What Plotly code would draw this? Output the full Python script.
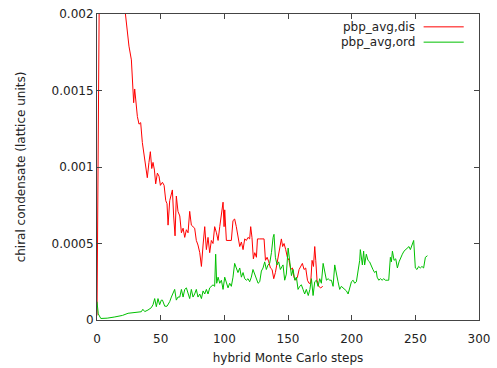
import plotly.graph_objects as go

# Disordered start (red)
steps_dis = [0, 2, 10, 18, 21, 22.3, 23.6, 25.1, 27, 27.8, 28.8, 29.6, 30.4, 31.7, 33, 34.3, 35.6, 36.9,
             38.2, 39.5, 40.8, 41.9, 43, 44, 45.1, 46.1, 47.4, 48.7, 49.8, 51.4, 52.7, 54, 55, 55.8,
             57.1, 59.2, 60.2, 61.3, 62.3, 63.6, 65, 66.3, 67.6, 68.9, 70.2, 71.5, 72.8, 74.1, 75.4,
             76.7, 78, 79.3, 80.7, 82, 83.3, 84.6, 85.9, 87.2, 88.5, 89.8, 91.1, 92.4, 93.8, 95.1,
             96.4, 97.7, 99, 99.8, 100.3, 101.6, 102.9, 104.2, 105.5, 106.8, 108.1, 109.4, 110.7,
             112.1, 113.4, 114.7, 116, 117.3, 118.6, 119.9, 120.7, 121.7, 122.8, 123.9, 125.2, 126,
             127.7, 130.4, 131.2, 132.3, 133.6, 134.9, 136.2, 137.5, 138.8, 140.1, 141.4, 142.7, 144,
             144.8, 145.8, 146.9, 148.2, 149.5, 150.8, 152.1, 153.5, 154.7, 156, 157.4, 158.7, 160,
             161.3, 162.6, 163.9, 165.3, 166.5, 167.8, 168.9, 170, 171, 171.8, 172.8, 174.1, 175.7,
             177.3]
pbp_dis = [0.00003, 0.0024, 0.0040, 0.0028, 0.0021, 0.00200, 0.00186, 0.00179, 0.00170, 0.00159,
           0.00142, 0.00151, 0.00145, 0.00133, 0.00128, 0.00129, 0.00116, 0.00107, 0.00100, 0.00093,
           0.00103, 0.00110, 0.00099, 0.00103, 0.00098, 0.00089, 0.00096, 0.00094, 0.00088, 0.00090,
           0.00088, 0.00078, 0.00076, 0.00062, 0.00078, 0.00085, 0.00068, 0.00055, 0.00081, 0.00071,
           0.00068, 0.00057, 0.00060, 0.00054, 0.00059, 0.00057, 0.00071, 0.00062, 0.00061, 0.00060,
           0.00052, 0.00049, 0.00044, 0.00035, 0.00049, 0.00061, 0.00046, 0.00054, 0.00044, 0.00052,
           0.00050, 0.00061, 0.00057, 0.00052, 0.00061, 0.00068, 0.00077, 0.00061, 0.00072, 0.00052,
           0.00052, 0.00052, 0.00052, 0.00065, 0.00066, 0.00061, 0.00054, 0.00048, 0.00051, 0.00046,
           0.00053, 0.00052, 0.00054, 0.00053, 0.00061, 0.00054, 0.00040, 0.00044, 0.00041, 0.00053,
           0.00053, 0.00053, 0.00053, 0.00039, 0.00041, 0.00038, 0.00034, 0.00033, 0.00027, 0.00031,
           0.00037, 0.00041, 0.00048, 0.00053, 0.00048, 0.00050, 0.00046, 0.00041, 0.00039, 0.00033,
           0.00034, 0.00028, 0.00026, 0.00028, 0.00033, 0.00035, 0.00037, 0.00033, 0.00034, 0.00026,
           0.00024, 0.00024, 0.00039, 0.00035, 0.00048, 0.00039, 0.00026, 0.00022, 0.00021, 0.00022]

# Ordered start (green)
steps_ord = [0, 1, 3, 8, 14, 20, 24.4, 30, 34.8, 36, 37.5, 40, 42.6, 44, 45.3, 46.6, 47.9, 49.2, 50.5,
             51.4, 53.2, 55, 57.1, 58.4, 61, 62.3, 63.6, 65, 66.3, 67.6, 68.9, 70.2, 71.5, 72.8, 74.1,
             75.4, 76.7, 78, 79.3, 80.7, 82, 83.3, 84.6, 85.9, 87.2, 88.5, 91.1, 92.4, 93.2, 94, 95.1,
             96.4, 97.7, 99, 100.3, 101.6, 102.9, 104.2, 105.5, 106.8, 108.1, 109.4, 110.7, 112.1,
             113.4, 114.7, 116, 117.3, 118.6, 119.9, 121.2, 122.5, 123.8, 125.2, 126.5, 127.8, 129.1,
             130.4, 131.7, 133, 134.3, 135.6, 137, 138.3, 139, 140.1, 141.4, 142.7, 144, 145.3, 146.1,
             147.4, 148.7, 150.1, 151.4, 152.7, 154, 155.3, 156.6, 157.9, 159.2, 160.5, 161.8, 163.1,
             164.4, 165.9, 167.2, 168.4, 169.7, 171, 172.3, 173.6, 174.9, 176.2, 177.6, 179, 180.2,
             181.5, 182.8, 184.1, 185.4, 186.7, 188, 189.3, 190.6, 191.9, 193.2, 194.6, 195.9, 197.2,
             198.5, 199.8, 201.1, 202.4, 203.7, 205, 206.3, 206.8, 208.4, 209.4, 210.2, 211.5, 212.8,
             214.1, 215.4, 216.7, 218, 219.3, 220, 221.3, 222.6, 223.9, 225.2, 226.5, 227.8, 229.1,
             230.4, 231.2, 232, 233.3, 234.6, 235.9, 237.2, 238.5, 239.8, 241.1, 242.4, 243.7, 245,
             246.1, 247.4, 248.7, 250, 251.3, 252.6, 253.9, 255.2, 256.5, 257.9, 259.5]
pbp_ord = [0.00012, 0.00004, 0.00001, 0.000012, 0.00002, 0.00003, 0.000044, 0.00005, 0.000054,
           0.00007, 0.000055, 0.000065, 0.00008, 0.00010, 0.00014, 0.000087, 0.00014, 0.00010,
           0.00013, 0.00013, 0.00009, 0.00009, 0.00012, 0.00015, 0.00020, 0.00013, 0.00015, 0.00015,
           0.00020, 0.00015, 0.00020, 0.00021, 0.00017, 0.00014, 0.00020, 0.00015, 0.00017, 0.00020,
           0.00015, 0.00017, 0.00014, 0.00019, 0.00017, 0.00020, 0.00017, 0.00021, 0.00023, 0.00022,
           0.00043, 0.00024, 0.00028, 0.00024, 0.00026, 0.00020, 0.00028, 0.00024, 0.00021, 0.00024,
           0.00022, 0.00028, 0.00037, 0.00034, 0.00031, 0.00034, 0.00028, 0.00031, 0.00027, 0.00026,
           0.00027, 0.00025, 0.00028, 0.00033, 0.00030, 0.00028, 0.00024, 0.00025, 0.00032, 0.00034,
           0.00038, 0.00033, 0.00036, 0.00037, 0.00044, 0.00054, 0.00056, 0.00041, 0.00036, 0.00038,
           0.00033, 0.00035, 0.00036, 0.00026, 0.00030, 0.00047, 0.00037, 0.00029, 0.00033, 0.00026,
           0.00028, 0.00020, 0.00022, 0.00023, 0.00020, 0.00017, 0.00020, 0.00016, 0.00020, 0.00027,
           0.00016, 0.00025, 0.00026, 0.00022, 0.00027, 0.00024, 0.00037, 0.00031, 0.00026, 0.00027,
           0.00026, 0.00026, 0.00022, 0.00036, 0.00029, 0.00025, 0.00020, 0.00022, 0.00021, 0.00020,
           0.00019, 0.00017, 0.00022, 0.00025, 0.00026, 0.00024, 0.00025, 0.00031, 0.00039, 0.00046,
           0.00036, 0.00045, 0.00036, 0.00043, 0.00039, 0.00038, 0.00035, 0.00033, 0.00031, 0.00032,
           0.00028, 0.00026, 0.00027, 0.00026, 0.00027, 0.00026, 0.00026, 0.00026, 0.00041, 0.00038,
           0.00045, 0.00039, 0.00040, 0.00034, 0.00038, 0.00041, 0.00043, 0.00045, 0.00046, 0.00047,
           0.00048, 0.00046, 0.00049, 0.00052, 0.00034, 0.00033, 0.00035, 0.00034, 0.00035, 0.00034,
           0.00041, 0.00042]

x_ticks = [0, 50, 100, 150, 200, 250, 300]
y_ticks = [0, 0.0005, 0.001, 0.0015, 0.002]
y_tick_labels = ["0", "0.0005", "0.001", "0.0015", "0.002"]
series_names = ["pbp_avg,dis", "pbp_avg,ord"]
series_colors = ["#ff0000", "#00c000"]

FONT = "DejaVu Sans"
fig = go.Figure()
fig.add_trace(go.Scatter(x=steps_dis, y=pbp_dis, mode="lines", name=series_names[0],
                         line=dict(color=series_colors[0], width=1), showlegend=False))
fig.add_trace(go.Scatter(x=steps_ord, y=pbp_ord, mode="lines", name=series_names[1],
                         line=dict(color=series_colors[1], width=1), showlegend=False))

axis_common = dict(showline=True, linecolor="#444444", linewidth=1, mirror="ticks",
                   ticks="inside", ticklen=5, tickcolor="#444444", showgrid=False,
                   zeroline=False, automargin=False,
                   tickfont=dict(family=FONT, size=12, color="#222222"))
fig.update_xaxes(range=[0, 300], tickvals=x_ticks, ticklabelstandoff=8, **axis_common,
                 title=dict(text="hybrid Monte Carlo steps", font=dict(family=FONT, size=12, color="#222222"), standoff=8))
fig.update_yaxes(range=[0, 0.002], tickvals=y_ticks, ticktext=y_tick_labels, **axis_common,
                 title=dict(text="chiral condensate (lattice units)", font=dict(family=FONT, size=12, color="#222222"), standoff=23))

# gnuplot-style legend (text then sample line on the right)
leg_y = [0.958, 0.908]
for name, color, yy in zip(series_names, series_colors, leg_y):
    fig.add_annotation(xref="paper", yref="paper", x=0.8375, y=yy, text=name, showarrow=False,
                       xanchor="right", yanchor="middle", font=dict(family=FONT, size=12, color="#222222"))
    fig.add_shape(type="line", xref="paper", yref="paper", x0=0.855, x1=0.96, y0=yy, y1=yy,
                  line=dict(color=color, width=1))

fig.update_layout(width=497, height=368, autosize=False,
                  margin=dict(l=97, r=18, t=14, b=48),
                  plot_bgcolor="white", paper_bgcolor="white",
                  font=dict(family=FONT, size=12))
fig.write_html("out.html", config={"displayModeBar": False},
               post_script="document.body.style.margin='0';")
